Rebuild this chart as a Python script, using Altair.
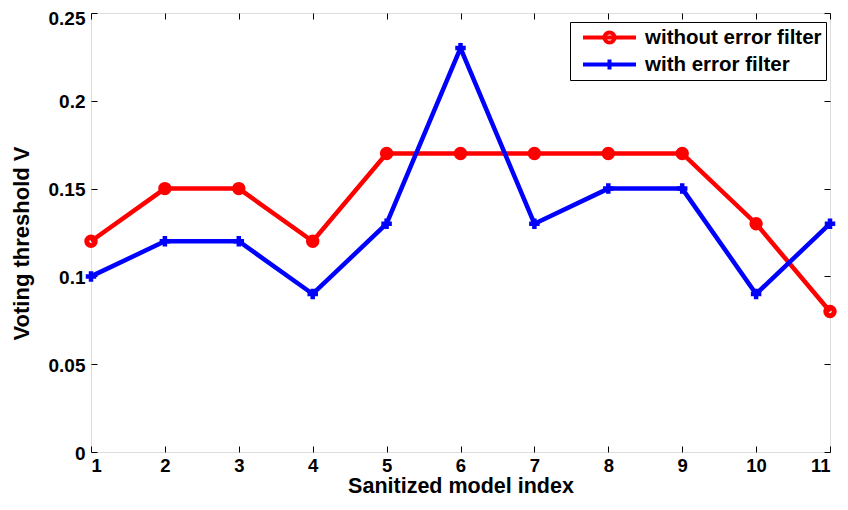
import altair as alt
import pandas as pd

idx = list(range(1, 12))
without_filter = [0.12, 0.15, 0.15, 0.12, 0.17, 0.17, 0.17, 0.17, 0.17, 0.13, 0.08]
with_filter = [0.10, 0.12, 0.12, 0.09, 0.13, 0.23, 0.13, 0.15, 0.15, 0.09, 0.13]
series_names = ["without error filter", "with error filter"]
series_colors = ["#ff0000", "#0000ff"]
y_ticks = [0, 0.05, 0.1, 0.15, 0.2, 0.25]
x_ticks = idx

W, H = 739, 439
FONT = "Liberation Sans"

df = pd.DataFrame({
    "x": idx * 2,
    "v": without_filter + with_filter,
    "series": [series_names[0]] * len(idx) + [series_names[1]] * len(idx),
})

xs = alt.Scale(domain=[1, 11], nice=False, zero=False)
ys = alt.Scale(domain=[0, 0.25], nice=False)

leg_circle = "M-1,0H1M0.19,0A0.19,0.19,0,1,1,-0.19,0A0.19,0.19,0,1,1,0.19,0"
leg_plus = "M-1,0H1M0,-0.19V0.19M-0.19,0H0.19"
plus_marker = "M-1,0H1M0,-1V1"

legend = alt.Legend(
    title=None, orient="none", legendX=479, legendY=9,
    fillColor="white", strokeColor="black", padding=4,
    symbolSize=2809, symbolStrokeWidth=4, symbolOpacity=1, symbolOffset=7,
    clipHeight=23, rowPadding=4,
    labelFont=FONT, labelFontSize=20.5, labelFontWeight="bold", labelColor="black",
    labelOffset=7, labelLimit=400,
)

cscale = alt.Scale(domain=series_names, range=series_colors)

lab_common = dict(labelFont=FONT, labelFontWeight="bold", labelColor="black",
                  titleFont=FONT, titleFontWeight="bold", titleColor="black",
                  domain=False, grid=False, tickSize=0)
tick_common = dict(labels=False, title=None, domain=False, grid=False, tickSize=6,
                   tickColor="black", tickWidth=1)

lines = alt.Chart(df).mark_line(strokeWidth=4.5).encode(
    x=alt.X("x:Q", scale=xs, axis=alt.Axis(values=x_ticks, format="d", labelPadding=4, labelFontSize=18.5,
                                           title="Sanitized model index", titleFontSize=21.5,
                                           titlePadding=1, **lab_common)),
    y=alt.Y("v:Q", scale=ys, axis=alt.Axis(values=y_ticks, format=".2~f", labelPadding=6, labelFontSize=19,
                                           labelOffset={"condition": {"test": "datum.value >= 0.25", "value": 5},
                                                        "value": 1},
                                           title="Voting threshold V", titleFontSize=22,
                                           titlePadding=15, titleY=230, **lab_common)),
    color=alt.Color("series:N", scale=cscale),
    detail="series:N",
)

circles = alt.Chart(df).transform_filter(
    alt.datum.series == series_names[0]
).mark_point(filled=False, strokeWidth=5, size=71, shape="circle", opacity=1).encode(
    x=alt.X("x:Q", scale=xs, axis=alt.Axis(values=x_ticks, orient="top", offset=-H, **tick_common)),
    y=alt.Y("v:Q", scale=ys, axis=alt.Axis(values=y_ticks, orient="right", offset=-W, **tick_common)),
    color=alt.Color("series:N", scale=cscale),
)

pluses = alt.Chart(df).transform_filter(
    alt.datum.series == series_names[1]
).mark_point(filled=False, strokeWidth=4.5, size=110, shape=plus_marker, opacity=1).encode(
    x=alt.X("x:Q", scale=xs, axis=None),
    y=alt.Y("v:Q", scale=ys, axis=None),
    color=alt.Color("series:N", scale=cscale),
)

ghost = alt.Chart(df).mark_point(opacity=0, filled=False, strokeWidth=4).encode(
    x=alt.X("x:Q", scale=xs, axis=alt.Axis(values=x_ticks, orient="bottom", offset=-H, **tick_common)),
    y=alt.Y("v:Q", scale=ys, axis=alt.Axis(values=y_ticks, orient="left", offset=-W, **tick_common)),
    color=alt.Color("series:N", scale=cscale, legend=legend),
    shape=alt.Shape("series:N", scale=alt.Scale(domain=series_names, range=[leg_circle, leg_plus]), legend=legend),
)

chart = alt.layer(lines, circles, pluses, ghost).resolve_axis(x="independent", y="independent").properties(
    width=W, height=H,
    autosize=alt.AutoSizeParams(type="none"),
    padding={"left": 83, "top": 5, "right": 10, "bottom": 50},
).configure_view(stroke="black", strokeWidth=1).configure(background="white")

chart.save("out.html", embed_options={"renderer": "svg", "actions": False})
